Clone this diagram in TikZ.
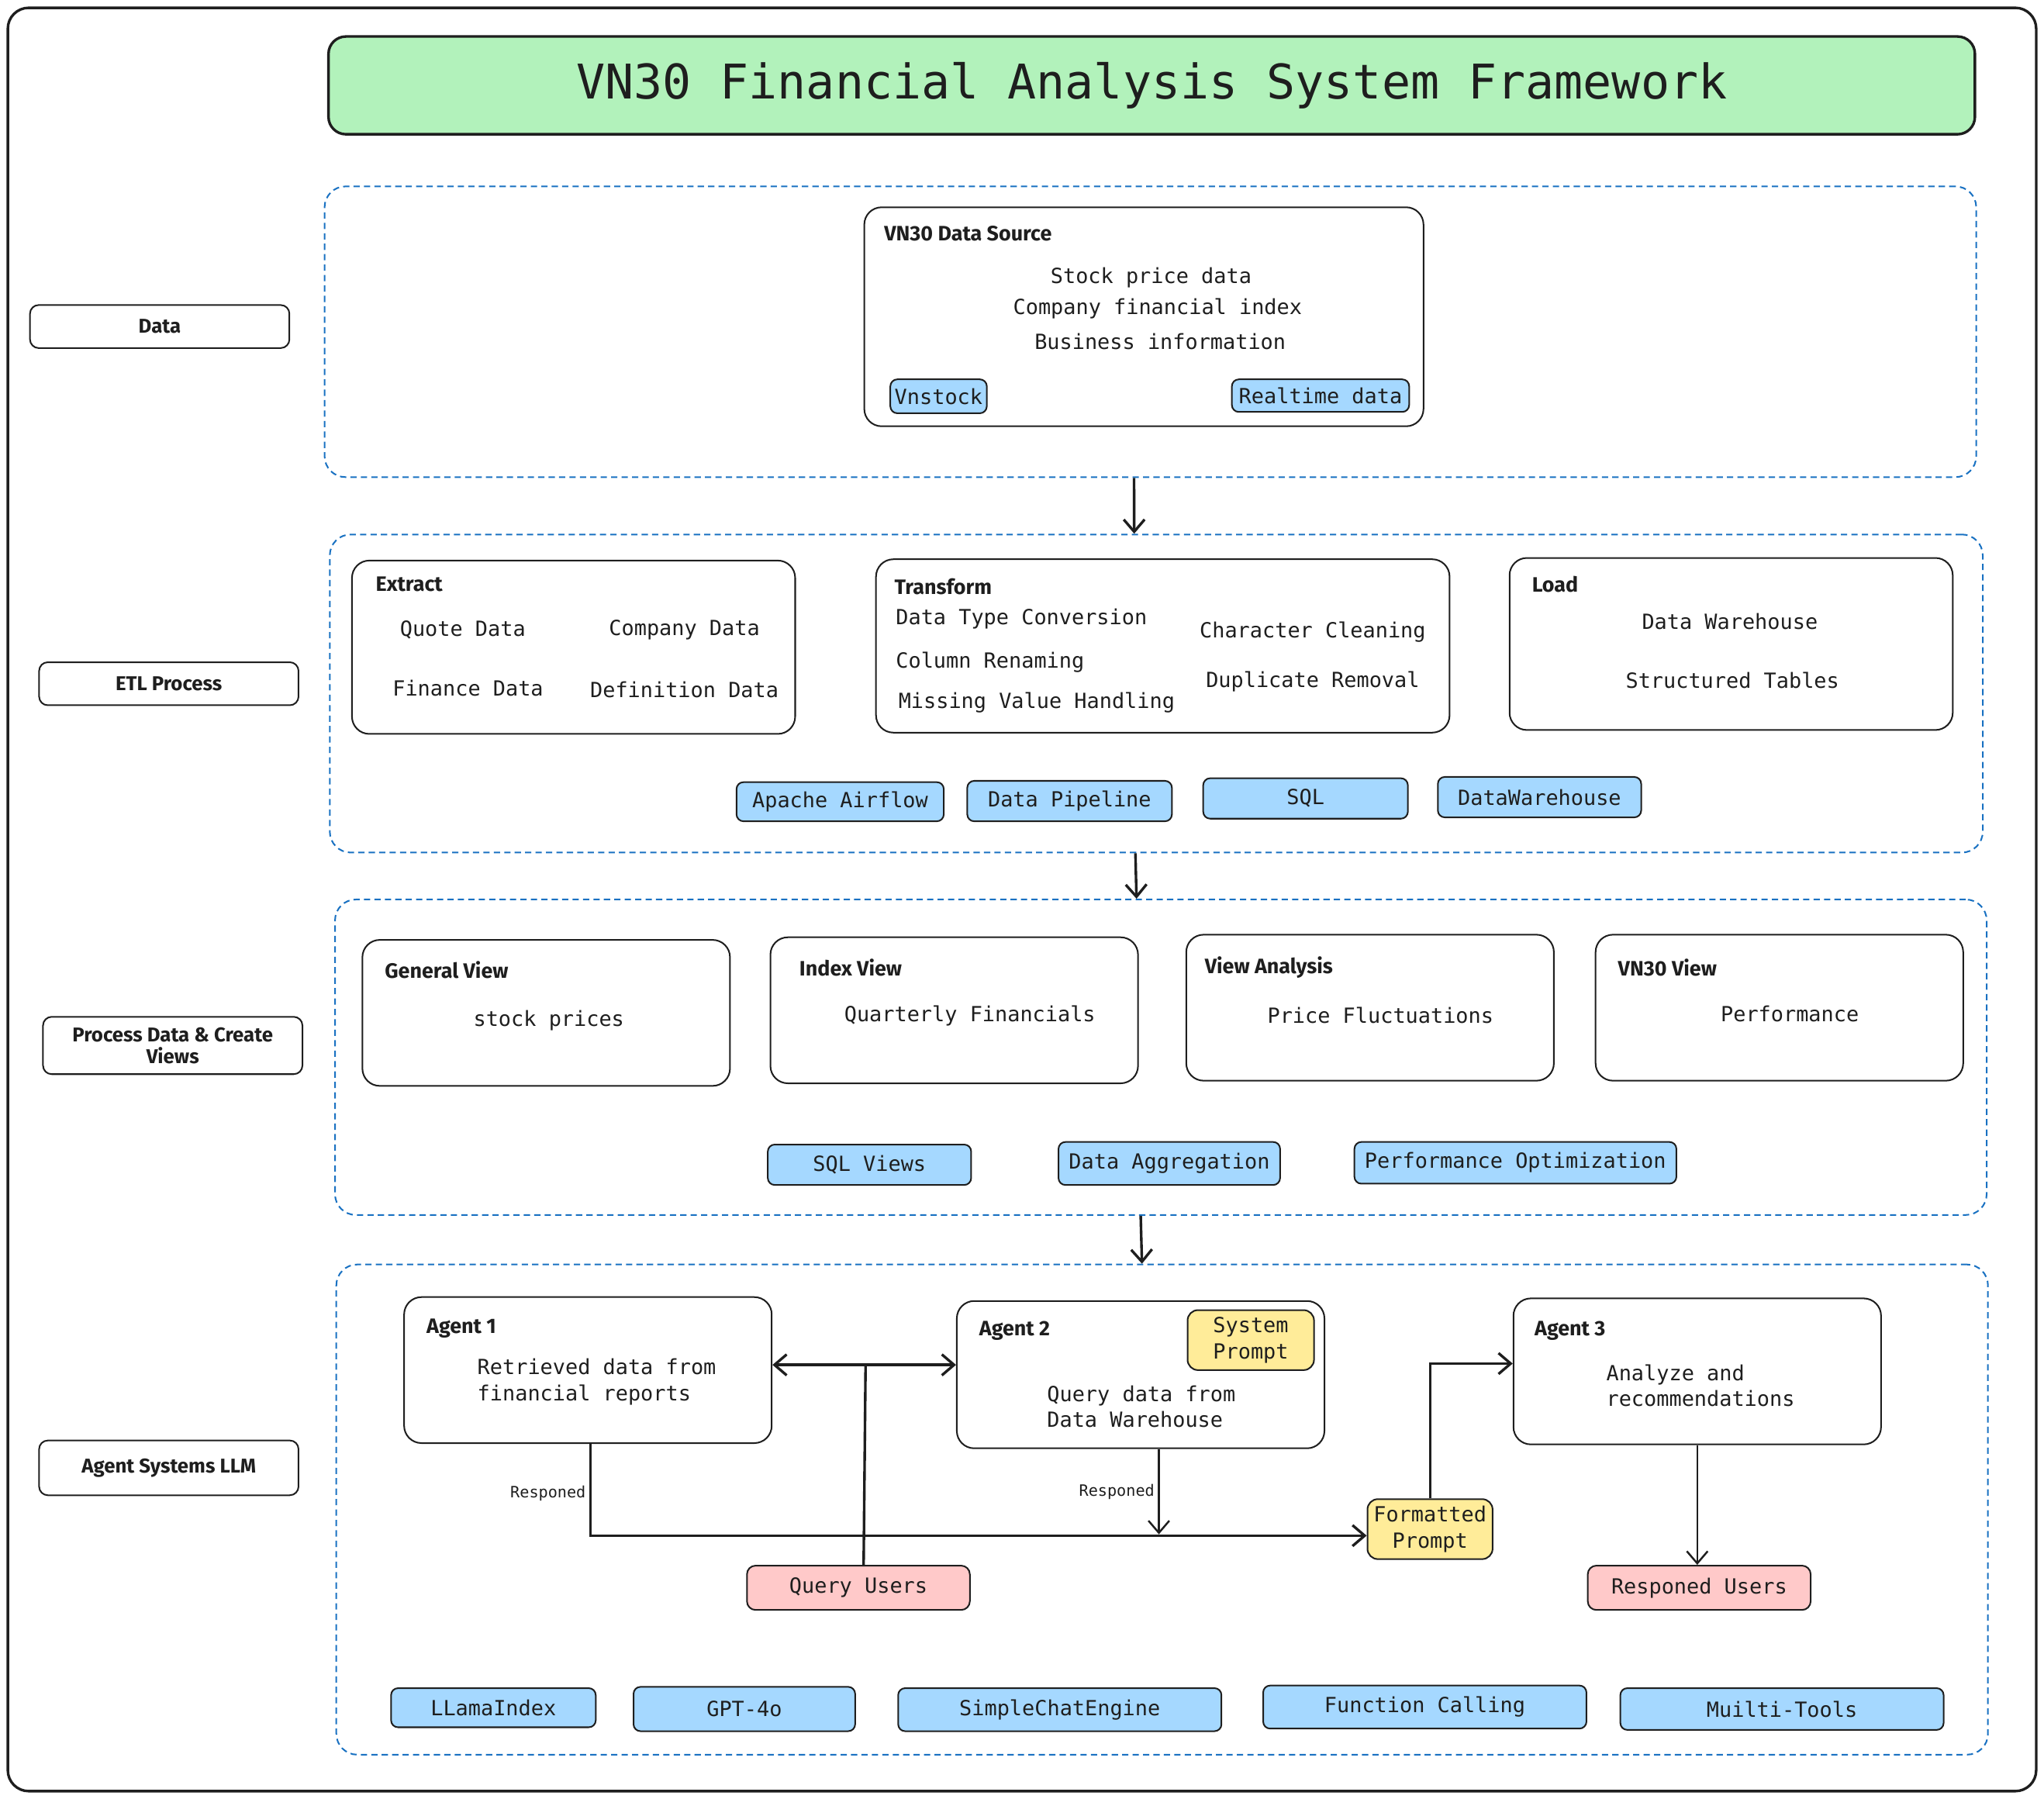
\documentclass[tikz,border=0pt]{standalone}
\usepackage{fontspec}
\setmainfont{Fira Sans}
\setmonofont{DejaVu Sans Mono}
\usepackage{xcolor}
\usepackage{tikz}
\usetikzlibrary{arrows.meta,fit}

\definecolor{ink}{HTML}{1E1E1E}
\definecolor{titlegreen}{HTML}{B2F2BB}
\definecolor{tagblue}{HTML}{A5D8FF}
\definecolor{noteyellow}{HTML}{FFEC99}
\definecolor{userpink}{HTML}{FFC9C9}
\definecolor{groupblue}{HTML}{1971C2}

\tikzset{
  group/.style={draw=groupblue, line width=0.9pt, dash pattern={on 3.6pt off 2.4pt}, rounded corners=12pt, inner sep=0pt},
  box/.style={draw=ink, line width=0.9pt, rounded corners=10pt, fill=white, inner sep=0pt},
  tag/.style={draw=ink, line width=0.9pt, rounded corners=4pt, fill=tagblue, inner sep=0pt},
  note/.style={draw=ink, line width=0.9pt, rounded corners=6pt, fill=noteyellow, inner sep=0pt},
  user/.style={draw=ink, line width=0.9pt, rounded corners=5pt, fill=userpink, inner sep=0pt},
  side/.style={draw=ink, line width=0.9pt, rounded corners=5pt, inner sep=0pt},
  sidetext/.style={inner sep=0pt, align=center, font=\fontsize{11.5}{12.5}\selectfont\bfseries, text=ink},
  tagtext/.style={inner sep=0pt, align=center, font=\fontsize{12}{15}\selectfont\ttfamily, text=ink},
  titletext/.style={inner sep=0pt, font=\fontsize{27.5}{32}\selectfont\ttfamily, text=ink},
  hd/.style={anchor=west, inner sep=0pt, font=\fontsize{12}{14}\selectfont\bfseries, text=ink},
  txt/.style={inner sep=0pt, font=\fontsize{12}{15}\selectfont\ttfamily, text=ink},
  resp/.style={inner sep=2pt, font=\fontsize{9}{11}\selectfont\ttfamily, text=ink},
  flow/.style={draw=ink, line width=1.5pt, -{Straight Barb[length=7pt,width=12pt]}},
  link/.style={draw=ink, line width=1.5pt}
}

\begin{document}
\begin{tikzpicture}[x=0.75pt,y=0.75pt,yscale=-1,xscale=1]
\useasboundingbox (0,0) rectangle (1568,1380);

%Shape: Frame
\draw [ink, line width=1.5pt, rounded corners=12pt] (6,6) rectangle (1562,1374) ;

%Shape: Title
\node [draw=ink, line width=1.5pt, rounded corners=10pt, fill=titlegreen, inner sep=0pt, fit={(252,28) (1515,103)}, label={[titletext]center:VN30 Financial Analysis System Framework}] (title) {};

%Side labels
\node [side, fit={(23,234) (222,267)}, label={[sidetext]center:Data}] (sdata) {};
\node [side, fit={(30,508) (229,541)}, label={[sidetext]center:ETL Process}] (setl) {};
\node [side, fit={(33,780) (232,824)}, label={[sidetext]center:{Process Data \& Create\\Views}}] (sview) {};
\node [side, fit={(30,1105) (229,1147)}, label={[sidetext]center:Agent Systems LLM}] (sagent) {};

%Shape: Groups
\node [group, fit={(249,143) (1516,366)}] (srcgrp) {};
\node [group, fit={(253,410) (1521,654)}] (etlgrp) {};
\node [group, fit={(257,690) (1524,932)}] (viewgrp) {};
\node [group, fit={(258,970) (1525,1346)}] (agentgrp) {};

%Data source
\node [box, fit={(663,159) (1092,327)}] (srcbox) {};
\node [hd] (srchd) at (678,179) {VN30 Data Source};
\node [txt] (src1) at (883,213) {Stock price data};
\node [txt] (src2) at (888,237) {Company financial index};
\node [txt] (src3) at (890,262) {Business information};
\node [tag, fit={(683,291) (757,317)}, label={[tagtext]center:Vnstock}] (tvnstock) {};
\node [tag, fit={(945,291) (1081,316)}, label={[tagtext]center:Realtime data}] (trealtime) {};

%ETL
\node [box, fit={(270,430) (610,563)}] (extract) {};
\node [hd] (exthd) at (288,448) {Extract};
\node [txt] (ext1) at (355,483) {Quote Data};
\node [txt] (ext2) at (525,483) {Company Data};
\node [txt] (ext3) at (359,528) {Finance Data};
\node [txt] (ext4) at (525,529) {Definition Data};

\node [box, fit={(672,429) (1112,562)}] (transform) {};
\node [hd] (trahd) at (686,450) {Transform};
\node [txt, anchor=west] (tra1) at (687,475) {Data Type Conversion};
\node [txt, anchor=west] (tra2) at (687,508) {Column Renaming};
\node [txt, anchor=west] (tra3) at (689,539) {Missing Value Handling};
\node [txt] (tra4) at (1007,485) {Character Cleaning};
\node [txt] (tra5) at (1007,523) {Duplicate Removal};

\node [box, fit={(1158,428) (1498,560)}] (load) {};
\node [hd] (loadhd) at (1175,448) {Load};
\node [txt] (load1) at (1327,477) {Data Warehouse};
\node [txt] (load2) at (1329,522) {Structured Tables};

\node [tag, fit={(565,600) (724,630)}, label={[tagtext]center:Apache Airflow}] (tairflow) {};
\node [tag, fit={(742,599) (899,630)}, label={[tagtext]center:Data Pipeline}] (tpipeline) {};
\node [tag, fit={(923,597) (1080,628)}, label={[tagtext]center:SQL}] (tsql) {};
\node [tag, fit={(1103,596) (1259,627)}, label={[tagtext]center:DataWarehouse}] (twarehouse) {};

%Views
\node [box, fit={(278,721) (560,833)}] (genview) {};
\node [hd] (genhd) at (295,744) {General View};
\node [txt] (gen1) at (421,783) {stock prices};

\node [box, fit={(591,719) (873,831)}] (idxview) {};
\node [hd] (idxhd) at (613,742) {Index View};
\node [txt] (idx1) at (744,779) {Quarterly Financials};

\node [box, fit={(910,717) (1192,829)}] (anaview) {};
\node [hd] (anahd) at (924,742) {View Analysis};
\node [txt] (ana1) at (1059,779) {Price Fluctuations};

\node [box, fit={(1224,717) (1506,829)}] (vnview) {};
\node [hd] (vnhd) at (1241,742) {VN30 View};
\node [txt] (vn1) at (1373,778) {Performance};

\node [tag, fit={(589,878) (745,909)}, label={[tagtext]center:SQL Views}] (tsqlviews) {};
\node [tag, fit={(812,876) (982,909)}, label={[tagtext]center:Data Aggregation}] (taggr) {};
\node [tag, fit={(1039,876) (1286,908)}, label={[tagtext]center:Performance Optimization}] (toptim) {};

%Agents
\node [box, fit={(310,995) (592,1107)}] (agent1) {};
\node [hd] (a1hd) at (327,1019) {Agent 1};
\node [txt, anchor=west, align=left] (a1txt) at (366,1060) {Retrieved data from\\financial reports};

\node [box, fit={(734,998) (1016,1111)}] (agent2) {};
\node [hd] (a2hd) at (751,1021) {Agent 2};
\node [note, fit={(911,1005) (1008,1051)}, label={[tagtext]center:{System\\Prompt}}] (sysprompt) {};
\node [txt, anchor=west, align=left] (a2txt) at (803,1079) {Query data from\\Data Warehouse};

\node [box, fit={(1161,996) (1443,1108)}] (agent3) {};
\node [hd] (a3hd) at (1177,1021) {Agent 3};
\node [txt, anchor=west, align=left] (a3txt) at (1232,1063) {Analyze and\\recommendations};

\node [note, fit={(1049,1150) (1145,1196)}, label={[tagtext]center:{Formatted\\Prompt}}] (fmtprompt) {};
\node [user, fit={(573,1201) (744,1235)}, label={[tagtext]center:Query Users}] (queryusers) {};
\node [user, fit={(1218,1201) (1389,1235)}, label={[tagtext]center:Responed Users}] (respusers) {};

\node [tag, fit={(300,1295) (457,1325)}, label={[tagtext]center:LLamaIndex}] (tllama) {};
\node [tag, fit={(486,1294) (656,1328)}, label={[tagtext]center:GPT-4o}] (tgpt) {};
\node [tag, fit={(689,1295) (937,1328)}, label={[tagtext]center:SimpleChatEngine}] (tchat) {};
\node [tag, fit={(969,1293) (1217,1326)}, label={[tagtext]center:Function Calling}] (tfunc) {};
\node [tag, fit={(1243,1295) (1491,1327)}, label={[tagtext]center:Muilti-Tools}] (ttools) {};

%Section arrows
\draw [flow] ([xshift=-9.4pt]srcgrp.south) -- ([xshift=-12.7pt]etlgrp.north) ;
\draw [flow] ([xshift=-12pt]etlgrp.south) -- ([xshift=-14pt]viewgrp.north) ;
\draw [flow] ([xshift=-11.6pt]viewgrp.south) -- ([xshift=-11.6pt]agentgrp.north) ;

%Agent connectors
\coordinate (qsplit) at (664,1047);
\coordinate (a2drop) at (889,1177);
\draw [link] ([xshift=3pt]queryusers.north) -- (qsplit) ;
\draw [flow] (qsplit) -- (agent1.east |- qsplit) ;
\draw [flow] (qsplit) -- (agent2.west |- qsplit) ;
\draw [flow] ([xshift=1.5pt]agent1.south) |- ([yshift=3.75pt]fmtprompt.west) node [resp, pos=0.27, left] {Responed} ;
\draw [flow, line width=1.1pt] (a2drop |- agent2.south) -- (a2drop) node [resp, midway, left] {Responed} ;
\draw [flow] (fmtprompt.north) |- ([yshift=-4.5pt]agent3.west) ;
\draw [flow, line width=1.1pt] (agent3.south) -- (agent3.south |- respusers.north) ;
\end{tikzpicture}
\end{document}
